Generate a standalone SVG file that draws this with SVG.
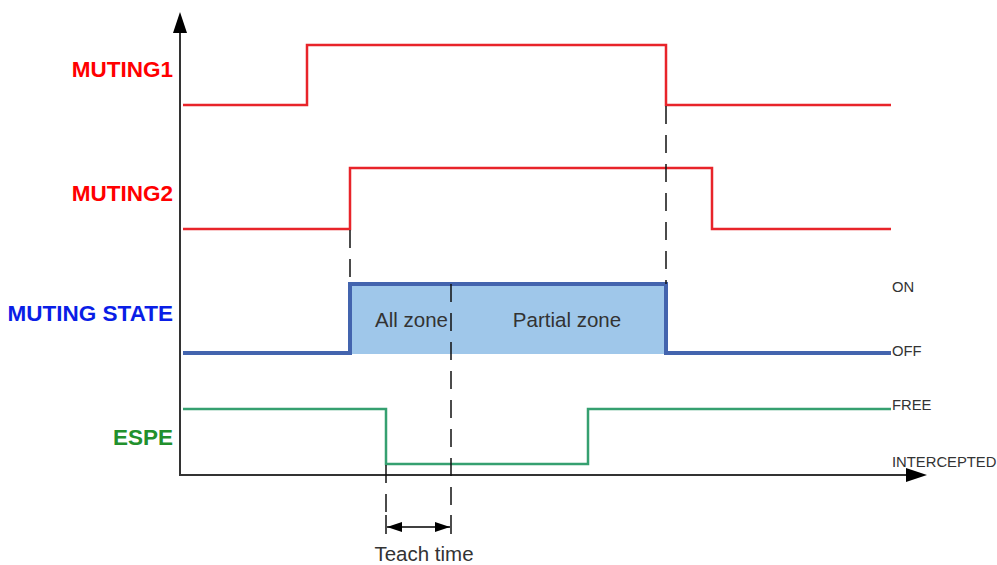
<svg xmlns="http://www.w3.org/2000/svg" width="997" height="565" viewBox="0 0 997 565">
<defs>
<style>
.lbl{font-family:"Liberation Sans",Arial,sans-serif;font-weight:bold;font-size:22.5px;text-anchor:end}
.st{font-family:"Liberation Sans",Arial,sans-serif;font-size:14.8px;fill:#333}
.zn{font-family:"Liberation Sans",Arial,sans-serif;font-size:20.5px;fill:#333}
.red{fill:none;stroke:#e8242a;stroke-width:2.5}
.dash{fill:none;stroke:#111;stroke-width:1.5;stroke-dasharray:18 11}
.axis{fill:none;stroke:#333;stroke-width:2}
</style>
<marker id="ta" markerWidth="15" markerHeight="10" viewBox="0 0 15 10" refX="15" refY="5" orient="auto-start-reverse" markerUnits="userSpaceOnUse">
<path d="M0,0 L15,5 L0,10 Z" fill="#000"/>
</marker>
</defs>
<rect width="997" height="565" fill="#fff"/>

<g id="axes">
<line class="axis" x1="180" y1="476" x2="180" y2="32"/>
<path d="M173,33 L180,12 L187,33 Z" fill="#000"/>
<line class="axis" x1="179" y1="475" x2="907" y2="475"/>
<path d="M906,468 L927,475 L906,482 Z" fill="#000"/>
</g>

<g id="muting1">
<text class="lbl" x="173" y="77" fill="#ff0000">MUTING1</text>
<path class="red" d="M183,105 H307 V45 H666 V105 H891"/>
</g>

<g id="muting2">
<text class="lbl" x="173" y="201" fill="#ff0000">MUTING2</text>
<path class="red" d="M183,229 H350 V168 H712 V229 H891"/>
</g>

<g id="muting-state">
<text class="lbl" x="173" y="321" fill="#0a1ee6">MUTING STATE</text>
<rect x="350" y="284" width="316" height="70" fill="#9fc7ea"/>
<path d="M183,353 H350 V284 H666 V353 H891" fill="none" stroke="#4364ae" stroke-width="4"/>
<text class="zn" x="375" y="327">All zone</text>
<text class="zn" x="567" y="327" text-anchor="middle">Partial zone</text>
<text class="st" x="892" y="292">ON</text>
<text class="st" x="892" y="356">OFF</text>
</g>

<g id="espe">
<text class="lbl" x="173" y="445" fill="#22902c">ESPE</text>
<path d="M183,409 H386 V464 H588 V409 H891" fill="none" stroke="#35a070" stroke-width="2.5"/>
<text class="st" x="892" y="410">FREE</text>
<text class="st" x="892" y="467">INTERCEPTED</text>
</g>

<g id="connectors">
<line class="dash" x1="350" y1="230" x2="350" y2="284"/>
<line class="dash" x1="666" y1="106" x2="666" y2="284"/>
<line class="dash" x1="451" y1="284" x2="451" y2="515"/>
<line class="dash" x1="386" y1="465" x2="386" y2="515"/>
<line x1="451" y1="515" x2="451" y2="534" stroke="#111" stroke-width="1.5"/>
<line x1="386" y1="515" x2="386" y2="534" stroke="#111" stroke-width="1.5"/>
<line x1="387" y1="527" x2="450" y2="527" stroke="#000" stroke-width="1.5" marker-start="url(#ta)" marker-end="url(#ta)"/>
</g>

<g id="teach-time">
<text class="zn" x="424" y="561" text-anchor="middle">Teach time</text>
</g>
</svg>
